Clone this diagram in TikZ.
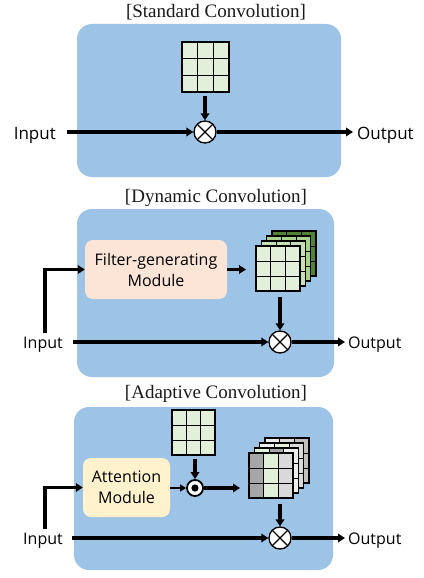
\documentclass[tikz,border=0pt]{standalone}
\usepackage{fontspec}
\setmainfont{Liberation Serif}
\newfontfamily\labfont{Open Sans}
\usetikzlibrary{arrows.meta,calc}
\definecolor{panelblue}{HTML}{9DC3E6}
\definecolor{cellgreen}{HTML}{E2F0D9}
\definecolor{green1}{HTML}{C5E0B4}
\definecolor{green2}{HTML}{A9D18E}
\definecolor{green3}{HTML}{548235}
\definecolor{peach}{HTML}{FBE5D6}
\definecolor{paleyellow}{HTML}{FFF2CC}
\definecolor{gA}{HTML}{A6A6A6}
\definecolor{gB}{HTML}{D9D9D9}
\definecolor{gC}{HTML}{EDEDED}
\definecolor{gD}{HTML}{BFBFBF}
\definecolor{titlegray}{HTML}{1A1A1A}
\tikzset{
  panel/.style={fill=panelblue, rounded corners=15pt, inner sep=0pt},
  title/.style={font=\fontsize{19}{22}\selectfont, text=titlegray, inner sep=0pt},
  lab/.style={font=\labfont\fontsize{16}{19}\selectfont, inner sep=0pt},
  biglab/.style={font=\labfont\fontsize{17}{20}\selectfont, inner sep=0pt},
  module/.style={rounded corners=8pt, inner sep=0pt, align=center,
    font=\labfont\fontsize{16}{21}\selectfont},
  arr/.style={line width=3.4pt, -{Triangle[length=7pt,width=8.5pt]}},
  thinarr/.style={line width=2.2pt, -{Triangle[length=6pt,width=7pt]}},
  kgrid/.style n args={3}{draw=black, line width=1.2pt, minimum width=44pt,
    minimum height=45pt, inner sep=0pt, outer sep=0pt,
    path picture={
      \coordinate (ppnw) at (path picture bounding box.north west);
      \coordinate (ppne) at (path picture bounding box.north east);
      \coordinate (ppsw) at (path picture bounding box.south west);
      \coordinate (ppse) at (path picture bounding box.south east);
      \fill[#1] (ppnw) rectangle ($(ppsw)!0.3333!(ppse)$);
      \fill[#2] ($(ppnw)!0.3333!(ppne)$) rectangle ($(ppsw)!0.6667!(ppse)$);
      \fill[#3] ($(ppnw)!0.6667!(ppne)$) rectangle (ppse);
      \draw[black, line width=0.9pt] ($(ppnw)!0.3333!(ppne)$) -- ($(ppsw)!0.3333!(ppse)$)
        ($(ppnw)!0.6667!(ppne)$) -- ($(ppsw)!0.6667!(ppse)$)
        ($(ppnw)!0.3333!(ppsw)$) -- ($(ppne)!0.3333!(ppse)$)
        ($(ppnw)!0.6667!(ppsw)$) -- ($(ppne)!0.6667!(ppse)$);
    }},
  otimes/.style={circle, draw=black, line width=1.3pt, fill=white,
    minimum size=22pt, inner sep=0pt,
    path picture={\draw[black, line width=1.1pt]
      (path picture bounding box.north west) -- (path picture bounding box.south east)
      (path picture bounding box.north east) -- (path picture bounding box.south west);}},
  odotnode/.style={circle, draw=black, line width=1.8pt, fill=white,
    minimum size=16pt, inner sep=0pt,
    path picture={\fill[black] (path picture bounding box.center) circle (3.6pt);}}
}
\begin{document}
\begin{tikzpicture}[x=1pt,y=-1pt]
\useasboundingbox (0,0) rectangle (423,578);
\fill[white] (0,0) rectangle (423,578);

% ---------------- Panel 1: Standard convolution
\node[panel, minimum width=264pt, minimum height=153pt] (p1) at (209,100.5) {};
\node[title] (t1) at (216,12) {[Standard Convolution]};
\node[kgrid={cellgreen}{cellgreen}{cellgreen}, minimum width=47pt, minimum height=50pt] (g1) at (205.5,67) {};
\node[otimes] (c1) at (205,132) {};
\node[biglab, anchor=east] (in1) at (56,135) {Input};
\node[biglab, anchor=west] (out1) at (357,135) {Output};
\draw[arr] ([yshift=-4pt]g1.south -| c1) -- (c1.north);
\draw[arr] ($(in1.east |- c1)+(11,0)$) -- (c1.west);
\draw[arr] (c1.east) -- ($(out1.west |- c1)+(-4,0)$);

% ---------------- Panel 2: Dynamic convolution
\node[panel, minimum width=257pt, minimum height=168pt] (p2) at (205.5,293) {};
\node[title] (t2) at (216,198) {[Dynamic Convolution]};
\node[module, fill=peach, minimum width=142pt, minimum height=59pt] (fg) at (156,269.5) {Filter-generating\\Module};
\node[kgrid={green3}{green3}{green3}] (s2c) at (294,253.5) {};
\node[kgrid={green2}{green2}{green2}] (s2b) at (288.7,258.5) {};
\node[kgrid={green1}{green1}{green1}] (s2a) at (283.3,263.5) {};
\node[kgrid={cellgreen}{cellgreen}{cellgreen}] (s2) at (278,268.5) {};
\node[otimes] (c2) at (280,342) {};
\node[lab, anchor=east] (in2) at (63,345) {Input};
\node[lab, anchor=west] (out2) at (348,345) {Output};
\draw[arr] (fg.east) -- ($(s2.west |- fg)+(-10,0)$);
\draw[arr] ([yshift=-6pt]s2.south -| c2) -- (c2.north);
\draw[arr] ($(in2.north)+(2,-4)$) |- (fg.west);
\draw[arr] ($(in2.east |- c2)+(10,0)$) -- (c2.west);
\draw[arr] (c2.east) -- ($(out2.west |- c2)+(-3,0)$);

% ---------------- Panel 3: Adaptive convolution
\node[panel, minimum width=259pt, minimum height=163pt] (p3) at (203.5,488.5) {};
\node[title] (t3) at (216,394) {[Adaptive Convolution]};
\node[kgrid={cellgreen}{cellgreen}{cellgreen}, minimum width=43pt] (g3) at (193.5,432.5) {};
\node[odotnode] (o3) at (195,488) {};
\node[module, fill=paleyellow, minimum width=87pt, minimum height=59pt] (att) at (126.5,487.5) {Attention\\Module};
\node[kgrid={gC}{gB}{gD}] (s3c) at (287,460.5) {};
\node[kgrid={gC}{cellgreen}{gB}] (s3b) at (281.7,465.5) {};
\node[kgrid={cellgreen}{gA}{gC}] (s3a) at (276.3,470.5) {};
\node[kgrid={gA}{cellgreen}{gB}] (s3) at (271,475.5) {};
\node[otimes] (c3) at (280,538) {};
\node[lab, anchor=east] (in3) at (63,541) {Input};
\node[lab, anchor=west] (out3) at (348,541) {Output};
\draw[arr] ([yshift=-4pt]g3.south -| o3) -- (o3.north);
\draw[thinarr] (att.east |- o3) -- (o3.west);
\draw[arr] (o3.east) -- ($(s3.west |- o3)+(-9,0)$);
\draw[arr] ([yshift=-6pt]s3.south -| c3) -- (c3.north);
\draw[arr] ($(in3.north)+(2,-4)$) |- (att.west);
\draw[arr] ($(in3.east |- c3)+(9,0)$) -- (c3.west);
\draw[arr] (c3.east) -- ($(out3.west |- c3)+(-3,0)$);
\end{tikzpicture}
\end{document}
